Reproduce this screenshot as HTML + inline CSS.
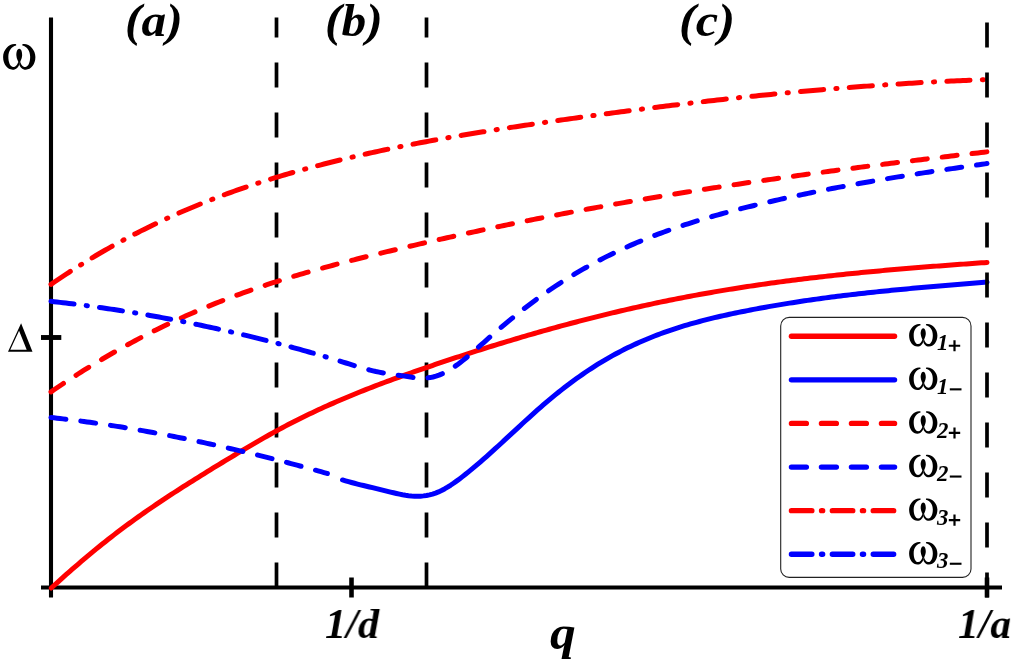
<!DOCTYPE html>
<html><head><meta charset="utf-8"><title>dispersion</title>
<style>
html,body{margin:0;padding:0;background:#fff;}
#c{position:relative;width:1016px;height:661px;overflow:hidden;background:#fff;font-family:"Liberation Serif",serif;}
.t{position:absolute;will-change:transform;line-height:0;white-space:nowrap;color:#000;font-family:"Liberation Serif",serif;}
.bi{font-weight:bold;font-style:italic;}
.r{font-weight:normal;font-style:normal;}
</style></head><body><div id="c">
<svg width="1016" height="661" viewBox="0 0 1016 661" style="position:absolute;left:0;top:0">
<path d="M276.5 587.5 L276.5 17.5" stroke="#000" stroke-width="3.7" stroke-dasharray="25 25" fill="none"/>
<path d="M426.5 587.5 L426.5 17.5" stroke="#000" stroke-width="3.7" stroke-dasharray="25 25" fill="none"/>
<path d="M51 17.5 L51 597.5" stroke="#000" stroke-width="4.1" fill="none"/>
<path d="M41 587.5 L1002 587.5" stroke="#000" stroke-width="4.1" fill="none"/>
<path d="M41 337.5 L61.3 337.5" stroke="#000" stroke-width="4.9" fill="none"/>
<path d="M351.5 577.5 L351.5 597.5" stroke="#000" stroke-width="4.6" fill="none"/>
<path d="M987 577.5 L987 597.5" stroke="#000" stroke-width="4.6" fill="none"/>
<path d="M51.30 588.01 L54.30 585.27 L57.30 582.55 L60.30 579.85 L63.30 577.16 L66.30 574.49 L69.30 571.85 L72.30 569.22 L75.30 566.61 L78.30 564.02 L81.30 561.45 L84.30 558.90 L87.30 556.37 L90.30 553.87 L93.30 551.39 L96.30 548.93 L99.30 546.49 L102.30 544.07 L105.30 541.68 L108.30 539.31 L111.30 536.97 L114.30 534.64 L117.30 532.34 L120.30 530.07 L123.30 527.81 L126.30 525.59 L129.30 523.38 L132.30 521.19 L135.30 519.03 L138.30 516.89 L141.30 514.76 L144.30 512.66 L147.30 510.57 L150.30 508.50 L153.30 506.45 L156.30 504.42 L159.30 502.40 L162.30 500.39 L165.30 498.40 L168.30 496.42 L171.30 494.46 L174.30 492.51 L177.30 490.57 L180.30 488.64 L183.30 486.72 L186.30 484.81 L189.30 482.91 L192.30 481.02 L195.30 479.13 L198.30 477.26 L201.30 475.39 L204.30 473.52 L207.30 471.67 L210.30 469.82 L213.30 467.98 L216.30 466.14 L219.30 464.31 L222.30 462.49 L225.30 460.67 L228.30 458.86 L231.30 457.05 L234.30 455.25 L237.30 453.45 L240.30 451.66 L243.30 449.87 L246.30 448.10 L249.30 446.33 L252.30 444.57 L255.30 442.82 L258.30 441.08 L261.30 439.36 L264.30 437.65 L267.30 435.95 L270.30 434.27 L273.30 432.61 L276.30 430.96 L279.30 429.33 L282.30 427.72 L285.30 426.13 L288.30 424.56 L291.30 423.01 L294.30 421.48 L297.30 419.96 L300.30 418.47 L303.30 416.99 L306.30 415.52 L309.30 414.08 L312.30 412.65 L315.30 411.24 L318.30 409.84 L321.30 408.46 L324.30 407.09 L327.30 405.74 L330.30 404.41 L333.30 403.09 L336.30 401.78 L339.30 400.49 L342.30 399.21 L345.30 397.94 L348.30 396.69 L351.30 395.44 L354.30 394.22 L357.30 393.00 L360.30 391.79 L363.30 390.60 L366.30 389.41 L369.30 388.24 L372.30 387.08 L375.30 385.93 L378.30 384.78 L381.30 383.65 L384.30 382.53 L387.30 381.41 L390.30 380.30 L393.30 379.20 L396.30 378.11 L399.30 377.03 L402.30 375.95 L405.30 374.88 L408.30 373.82 L411.30 372.76 L414.30 371.71 L417.30 370.66 L420.30 369.62 L423.30 368.59 L426.30 367.56 L429.30 366.53 L432.30 365.51 L435.30 364.49 L438.30 363.48 L441.30 362.47 L444.30 361.46 L447.30 360.46 L450.30 359.47 L453.30 358.47 L456.30 357.49 L459.30 356.51 L462.30 355.53 L465.30 354.55 L468.30 353.59 L471.30 352.62 L474.30 351.66 L477.30 350.71 L480.30 349.76 L483.30 348.81 L486.30 347.87 L489.30 346.94 L492.30 346.00 L495.30 345.08 L498.30 344.16 L501.30 343.24 L504.30 342.33 L507.30 341.42 L510.30 340.52 L513.30 339.62 L516.30 338.73 L519.30 337.84 L522.30 336.96 L525.30 336.08 L528.30 335.21 L531.30 334.34 L534.30 333.48 L537.30 332.63 L540.30 331.77 L543.30 330.93 L546.30 330.09 L549.30 329.25 L552.30 328.42 L555.30 327.59 L558.30 326.77 L561.30 325.96 L564.30 325.15 L567.30 324.34 L570.30 323.54 L573.30 322.75 L576.30 321.96 L579.30 321.18 L582.30 320.40 L585.30 319.63 L588.30 318.86 L591.30 318.10 L594.30 317.34 L597.30 316.59 L600.30 315.85 L603.30 315.11 L606.30 314.38 L609.30 313.65 L612.30 312.93 L615.30 312.21 L618.30 311.50 L621.30 310.80 L624.30 310.10 L627.30 309.40 L630.30 308.72 L633.30 308.03 L636.30 307.36 L639.30 306.69 L642.30 306.02 L645.30 305.37 L648.30 304.71 L651.30 304.07 L654.30 303.43 L657.30 302.79 L660.30 302.16 L663.30 301.54 L666.30 300.93 L669.30 300.32 L672.30 299.71 L675.30 299.11 L678.30 298.52 L681.30 297.94 L684.30 297.36 L687.30 296.78 L690.30 296.22 L693.30 295.65 L696.30 295.10 L699.30 294.55 L702.30 294.01 L705.30 293.47 L708.30 292.94 L711.30 292.42 L714.30 291.90 L717.30 291.39 L720.30 290.88 L723.30 290.38 L726.30 289.88 L729.30 289.39 L732.30 288.91 L735.30 288.43 L738.30 287.96 L741.30 287.49 L744.30 287.03 L747.30 286.57 L750.30 286.12 L753.30 285.67 L756.30 285.23 L759.30 284.79 L762.30 284.36 L765.30 283.94 L768.30 283.52 L771.30 283.10 L774.30 282.69 L777.30 282.28 L780.30 281.88 L783.30 281.48 L786.30 281.09 L789.30 280.70 L792.30 280.31 L795.30 279.93 L798.30 279.56 L801.30 279.19 L804.30 278.82 L807.30 278.46 L810.30 278.10 L813.30 277.75 L816.30 277.40 L819.30 277.05 L822.30 276.71 L825.30 276.37 L828.30 276.04 L831.30 275.71 L834.30 275.38 L837.30 275.06 L840.30 274.74 L843.30 274.42 L846.30 274.11 L849.30 273.80 L852.30 273.50 L855.30 273.19 L858.30 272.90 L861.30 272.60 L864.30 272.31 L867.30 272.02 L870.30 271.73 L873.30 271.45 L876.30 271.17 L879.30 270.89 L882.30 270.62 L885.30 270.35 L888.30 270.08 L891.30 269.82 L894.30 269.55 L897.30 269.29 L900.30 269.03 L903.30 268.78 L906.30 268.53 L909.30 268.28 L912.30 268.03 L915.30 267.78 L918.30 267.54 L921.30 267.30 L924.30 267.06 L927.30 266.82 L930.30 266.59 L933.30 266.36 L936.30 266.13 L939.30 265.90 L942.30 265.67 L945.30 265.44 L948.30 265.22 L951.30 265.00 L954.30 264.78 L957.30 264.56 L960.30 264.34 L963.30 264.13 L966.30 263.91 L969.30 263.70 L972.30 263.49 L975.30 263.28 L978.30 263.07 L981.30 262.86 L984.30 262.65 L987.00 262.47" stroke="#f00" stroke-width="5.0" stroke-linecap="round" stroke-linejoin="round" fill="none"/>
<path d="M342.50 479.95 L345.50 480.83 L348.50 481.68 L351.50 482.50 L354.50 483.29 L357.50 484.06 L360.50 484.81 L363.50 485.55 L366.50 486.27 L369.50 486.98 L372.50 487.69 L375.50 488.40 L378.50 489.12 L381.50 489.84 L384.50 490.57 L387.50 491.32 L390.50 492.06 L393.50 492.80 L396.50 493.51 L399.50 494.17 L402.50 494.77 L405.50 495.29 L408.50 495.72 L411.50 496.03 L414.50 496.21 L417.50 496.25 L420.50 496.14 L423.50 495.88 L426.50 495.45 L429.50 494.85 L432.50 494.06 L435.50 493.08 L438.50 491.91 L441.50 490.53 L444.50 488.95 L447.50 487.20 L450.50 485.30 L453.50 483.27 L456.50 481.13 L459.50 478.91 L462.50 476.62 L465.50 474.28 L468.50 471.88 L471.50 469.43 L474.50 466.94 L477.50 464.40 L480.50 461.83 L483.50 459.21 L486.50 456.57 L489.50 453.89 L492.50 451.19 L495.50 448.47 L498.50 445.73 L501.50 442.97 L504.50 440.20 L507.50 437.42 L510.50 434.64 L513.50 431.86 L516.50 429.07 L519.50 426.30 L522.50 423.53 L525.50 420.78 L528.50 418.04 L531.50 415.32 L534.50 412.62 L537.50 409.95 L540.50 407.31 L543.50 404.70 L546.50 402.13 L549.50 399.60 L552.50 397.10 L555.50 394.65 L558.50 392.23 L561.50 389.86 L564.50 387.52 L567.50 385.23 L570.50 382.97 L573.50 380.75 L576.50 378.58 L579.50 376.44 L582.50 374.35 L585.50 372.30 L588.50 370.28 L591.50 368.31 L594.50 366.38 L597.50 364.49 L600.50 362.65 L603.50 360.84 L606.50 359.08 L609.50 357.36 L612.50 355.68 L615.50 354.04 L618.50 352.44 L621.50 350.87 L624.50 349.35 L627.50 347.86 L630.50 346.41 L633.50 345.00 L636.50 343.62 L639.50 342.28 L642.50 340.96 L645.50 339.69 L648.50 338.44 L651.50 337.23 L654.50 336.04 L657.50 334.89 L660.50 333.76 L663.50 332.67 L666.50 331.60 L669.50 330.56 L672.50 329.55 L675.50 328.56 L678.50 327.59 L681.50 326.65 L684.50 325.73 L687.50 324.84 L690.50 323.97 L693.50 323.12 L696.50 322.29 L699.50 321.48 L702.50 320.68 L705.50 319.91 L708.50 319.15 L711.50 318.41 L714.50 317.69 L717.50 316.98 L720.50 316.29 L723.50 315.61 L726.50 314.94 L729.50 314.29 L732.50 313.64 L735.50 313.01 L738.50 312.39 L741.50 311.78 L744.50 311.18 L747.50 310.58 L750.50 310.00 L753.50 309.42 L756.50 308.85 L759.50 308.29 L762.50 307.74 L765.50 307.20 L768.50 306.66 L771.50 306.13 L774.50 305.61 L777.50 305.10 L780.50 304.60 L783.50 304.10 L786.50 303.61 L789.50 303.13 L792.50 302.66 L795.50 302.19 L798.50 301.73 L801.50 301.28 L804.50 300.83 L807.50 300.39 L810.50 299.96 L813.50 299.53 L816.50 299.11 L819.50 298.70 L822.50 298.29 L825.50 297.89 L828.50 297.49 L831.50 297.10 L834.50 296.72 L837.50 296.34 L840.50 295.96 L843.50 295.59 L846.50 295.23 L849.50 294.87 L852.50 294.52 L855.50 294.17 L858.50 293.83 L861.50 293.49 L864.50 293.16 L867.50 292.83 L870.50 292.50 L873.50 292.18 L876.50 291.87 L879.50 291.56 L882.50 291.25 L885.50 290.94 L888.50 290.64 L891.50 290.34 L894.50 290.05 L897.50 289.76 L900.50 289.47 L903.50 289.19 L906.50 288.91 L909.50 288.63 L912.50 288.36 L915.50 288.08 L918.50 287.81 L921.50 287.55 L924.50 287.28 L927.50 287.02 L930.50 286.76 L933.50 286.50 L936.50 286.24 L939.50 285.99 L942.50 285.74 L945.50 285.49 L948.50 285.24 L951.50 284.99 L954.50 284.74 L957.50 284.50 L960.50 284.25 L963.50 284.01 L966.50 283.76 L969.50 283.52 L972.50 283.28 L975.50 283.04 L978.50 282.80 L981.50 282.56 L984.50 282.32 L987.00 282.12" stroke="#00f" stroke-width="5.0" stroke-linecap="round" stroke-linejoin="round" fill="none"/>
<path d="M51.00 391.86 L54.00 389.81 L57.00 387.77 L60.00 385.75 L63.00 383.74 L66.00 381.76 L69.00 379.79 L72.00 377.84 L75.00 375.90 L78.00 373.99 L81.00 372.08 L84.00 370.20 L87.00 368.34 L90.00 366.49 L93.00 364.65 L96.00 362.84 L99.00 361.04 L102.00 359.25 L105.00 357.49 L108.00 355.74 L111.00 354.01 L114.00 352.29 L117.00 350.59 L120.00 348.90 L123.00 347.24 L126.00 345.58 L129.00 343.95 L132.00 342.33 L135.00 340.72 L138.00 339.14 L141.00 337.56 L144.00 336.01 L147.00 334.47 L150.00 332.94 L153.00 331.43 L156.00 329.94 L159.00 328.46 L162.00 326.99 L165.00 325.55 L168.00 324.11 L171.00 322.69 L174.00 321.29 L177.00 319.90 L180.00 318.53 L183.00 317.17 L186.00 315.83 L189.00 314.50 L192.00 313.19 L195.00 311.89 L198.00 310.60 L201.00 309.33 L204.00 308.08 L207.00 306.83 L210.00 305.61 L213.00 304.39 L216.00 303.19 L219.00 302.00 L222.00 300.83 L225.00 299.66 L228.00 298.52 L231.00 297.38 L234.00 296.26 L237.00 295.15 L240.00 294.05 L243.00 292.96 L246.00 291.89 L249.00 290.83 L252.00 289.77 L255.00 288.74 L258.00 287.71 L261.00 286.69 L264.00 285.69 L267.00 284.69 L270.00 283.71 L273.00 282.74 L276.00 281.78 L279.00 280.83 L282.00 279.89 L285.00 278.96 L288.00 278.04 L291.00 277.12 L294.00 276.22 L297.00 275.33 L300.00 274.44 L303.00 273.57 L306.00 272.70 L309.00 271.84 L312.00 270.99 L315.00 270.15 L318.00 269.31 L321.00 268.49 L324.00 267.67 L327.00 266.85 L330.00 266.04 L333.00 265.24 L336.00 264.45 L339.00 263.66 L342.00 262.88 L345.00 262.10 L348.00 261.33 L351.00 260.56 L354.00 259.80 L357.00 259.04 L360.00 258.29 L363.00 257.54 L366.00 256.80 L369.00 256.06 L372.00 255.32 L375.00 254.59 L378.00 253.86 L381.00 253.13 L384.00 252.41 L387.00 251.69 L390.00 250.97 L393.00 250.25 L396.00 249.54 L399.00 248.83 L402.00 248.12 L405.00 247.41 L408.00 246.71 L411.00 246.01 L414.00 245.31 L417.00 244.61 L420.00 243.92 L423.00 243.23 L426.00 242.54 L429.00 241.85 L432.00 241.16 L435.00 240.48 L438.00 239.80 L441.00 239.13 L444.00 238.45 L447.00 237.78 L450.00 237.11 L453.00 236.44 L456.00 235.78 L459.00 235.12 L462.00 234.46 L465.00 233.80 L468.00 233.14 L471.00 232.49 L474.00 231.84 L477.00 231.20 L480.00 230.55 L483.00 229.91 L486.00 229.27 L489.00 228.63 L492.00 228.00 L495.00 227.37 L498.00 226.74 L501.00 226.11 L504.00 225.49 L507.00 224.87 L510.00 224.25 L513.00 223.63 L516.00 223.02 L519.00 222.41 L522.00 221.80 L525.00 221.19 L528.00 220.59 L531.00 219.99 L534.00 219.39 L537.00 218.79 L540.00 218.20 L543.00 217.61 L546.00 217.02 L549.00 216.44 L552.00 215.85 L555.00 215.27 L558.00 214.69 L561.00 214.12 L564.00 213.55 L567.00 212.98 L570.00 212.41 L573.00 211.84 L576.00 211.28 L579.00 210.72 L582.00 210.16 L585.00 209.61 L588.00 209.05 L591.00 208.50 L594.00 207.95 L597.00 207.41 L600.00 206.86 L603.00 206.32 L606.00 205.78 L609.00 205.25 L612.00 204.71 L615.00 204.18 L618.00 203.65 L621.00 203.12 L624.00 202.60 L627.00 202.07 L630.00 201.55 L633.00 201.03 L636.00 200.52 L639.00 200.00 L642.00 199.49 L645.00 198.98 L648.00 198.47 L651.00 197.97 L654.00 197.46 L657.00 196.96 L660.00 196.46 L663.00 195.97 L666.00 195.47 L669.00 194.98 L672.00 194.49 L675.00 194.00 L678.00 193.51 L681.00 193.03 L684.00 192.54 L687.00 192.06 L690.00 191.58 L693.00 191.11 L696.00 190.63 L699.00 190.16 L702.00 189.69 L705.00 189.22 L708.00 188.75 L711.00 188.28 L714.00 187.82 L717.00 187.36 L720.00 186.90 L723.00 186.44 L726.00 185.98 L729.00 185.53 L732.00 185.08 L735.00 184.63 L738.00 184.18 L741.00 183.73 L744.00 183.28 L747.00 182.84 L750.00 182.40 L753.00 181.96 L756.00 181.52 L759.00 181.08 L762.00 180.65 L765.00 180.21 L768.00 179.78 L771.00 179.35 L774.00 178.92 L777.00 178.49 L780.00 178.07 L783.00 177.65 L786.00 177.22 L789.00 176.80 L792.00 176.38 L795.00 175.97 L798.00 175.55 L801.00 175.13 L804.00 174.72 L807.00 174.31 L810.00 173.90 L813.00 173.49 L816.00 173.08 L819.00 172.68 L822.00 172.27 L825.00 171.87 L828.00 171.47 L831.00 171.07 L834.00 170.67 L837.00 170.27 L840.00 169.88 L843.00 169.48 L846.00 169.09 L849.00 168.70 L852.00 168.31 L855.00 167.92 L858.00 167.53 L861.00 167.14 L864.00 166.76 L867.00 166.37 L870.00 165.99 L873.00 165.61 L876.00 165.22 L879.00 164.85 L882.00 164.47 L885.00 164.09 L888.00 163.71 L891.00 163.34 L894.00 162.96 L897.00 162.59 L900.00 162.22 L903.00 161.85 L906.00 161.48 L909.00 161.11 L912.00 160.75 L915.00 160.38 L918.00 160.01 L921.00 159.65 L924.00 159.29 L927.00 158.92 L930.00 158.56 L933.00 158.20 L936.00 157.84 L939.00 157.49 L942.00 157.13 L945.00 156.77 L948.00 156.42 L951.00 156.06 L954.00 155.71 L957.00 155.35 L960.00 155.00 L963.00 154.65 L966.00 154.30 L969.00 153.95 L972.00 153.60 L975.00 153.25 L978.00 152.91 L981.00 152.56 L984.00 152.22 L987.00 151.87" stroke="#f00" stroke-width="5.0" stroke-linecap="round" stroke-linejoin="round" fill="none" stroke-dasharray="15 15"/>
<path d="M51.00 417.50 L54.00 417.83 L57.00 418.17 L60.00 418.52 L63.00 418.87 L66.00 419.23 L69.00 419.60 L72.00 419.97 L75.00 420.35 L78.00 420.74 L81.00 421.13 L84.00 421.53 L87.00 421.94 L90.00 422.35 L93.00 422.77 L96.00 423.20 L99.00 423.63 L102.00 424.07 L105.00 424.51 L108.00 424.97 L111.00 425.43 L114.00 425.89 L117.00 426.36 L120.00 426.84 L123.00 427.32 L126.00 427.82 L129.00 428.31 L132.00 428.82 L135.00 429.32 L138.00 429.84 L141.00 430.36 L144.00 430.89 L147.00 431.42 L150.00 431.96 L153.00 432.51 L156.00 433.06 L159.00 433.62 L162.00 434.18 L165.00 434.75 L168.00 435.33 L171.00 435.91 L174.00 436.49 L177.00 437.09 L180.00 437.68 L183.00 438.29 L186.00 438.90 L189.00 439.51 L192.00 440.13 L195.00 440.76 L198.00 441.39 L201.00 442.03 L204.00 442.67 L207.00 443.32 L210.00 443.98 L213.00 444.64 L216.00 445.30 L219.00 445.97 L222.00 446.65 L225.00 447.33 L228.00 448.01 L231.00 448.70 L234.00 449.40 L237.00 450.10 L240.00 450.81 L243.00 451.52 L246.00 452.24 L249.00 452.96 L252.00 453.68 L255.00 454.42 L258.00 455.15 L261.00 455.89 L264.00 456.64 L267.00 457.39 L270.00 458.15 L273.00 458.91 L276.00 459.67 L279.00 460.44 L282.00 461.22 L285.00 462.00 L288.00 462.78 L291.00 463.57 L294.00 464.36 L297.00 465.16 L300.00 465.96 L303.00 466.77 L306.00 467.58 L309.00 468.40 L312.00 469.22 L315.00 470.04 L318.00 470.87 L321.00 471.71 L324.00 472.54 L327.00 473.39 L327.40 473.50" stroke="#00f" stroke-width="5.0" stroke-linecap="round" stroke-linejoin="round" fill="none" stroke-dasharray="15 15"/>
<path d="M340.00 361.14 L343.00 362.06 L346.00 362.99 L349.00 363.93 L352.00 364.87 L355.00 365.80 L358.00 366.72 L361.00 367.62 L364.00 368.49 L367.00 369.32 L370.00 370.11 L373.00 370.85 L376.00 371.54 L379.00 372.16 L382.00 372.72 L385.00 373.23 L388.00 373.71 L391.00 374.16 L394.00 374.60 L397.00 375.02 L400.00 375.45 L403.00 375.88 L406.00 376.33 L409.00 376.81 L412.00 377.26 L415.00 377.66 L418.00 377.97 L421.00 378.14 L424.00 378.14 L427.00 377.96 L430.00 377.58 L433.00 376.99 L436.00 376.17 L439.00 375.13 L442.00 373.87 L445.00 372.42 L448.00 370.78 L451.00 368.97 L454.00 367.01 L457.00 364.91 L460.00 362.68 L463.00 360.35 L466.00 357.93 L469.00 355.42 L472.00 352.86 L475.00 350.24 L478.00 347.60 L481.00 344.93 L484.00 342.27 L487.00 339.61 L490.00 336.98 L493.00 334.36 L496.00 331.77 L499.00 329.19 L502.00 326.64 L505.00 324.11 L508.00 321.61 L511.00 319.14 L514.00 316.69 L517.00 314.27 L520.00 311.88 L523.00 309.52 L526.00 307.19 L529.00 304.90 L532.00 302.64 L535.00 300.41 L538.00 298.22 L541.00 296.07 L544.00 293.94 L547.00 291.85 L550.00 289.79 L553.00 287.77 L556.00 285.77 L559.00 283.81 L562.00 281.88 L565.00 279.98 L568.00 278.11 L571.00 276.26 L574.00 274.45 L577.00 272.67 L580.00 270.92 L583.00 269.19 L586.00 267.50 L589.00 265.83 L592.00 264.19 L595.00 262.57 L598.00 260.98 L601.00 259.42 L604.00 257.88 L607.00 256.37 L610.00 254.89 L613.00 253.42 L616.00 251.99 L619.00 250.57 L622.00 249.18 L625.00 247.82 L628.00 246.47 L631.00 245.15 L634.00 243.85 L637.00 242.57 L640.00 241.32 L643.00 240.08 L646.00 238.86 L649.00 237.67 L652.00 236.49 L655.00 235.33 L658.00 234.20 L661.00 233.08 L664.00 231.97 L667.00 230.89 L670.00 229.82 L673.00 228.78 L676.00 227.74 L679.00 226.73 L682.00 225.73 L685.00 224.74 L688.00 223.77 L691.00 222.81 L694.00 221.87 L697.00 220.95 L700.00 220.03 L703.00 219.13 L706.00 218.24 L709.00 217.37 L712.00 216.50 L715.00 215.65 L718.00 214.81 L721.00 213.98 L724.00 213.16 L727.00 212.35 L730.00 211.55 L733.00 210.76 L736.00 209.98 L739.00 209.21 L742.00 208.45 L745.00 207.69 L748.00 206.94 L751.00 206.20 L754.00 205.46 L757.00 204.74 L760.00 204.01 L763.00 203.30 L766.00 202.59 L769.00 201.89 L772.00 201.20 L775.00 200.51 L778.00 199.82 L781.00 199.15 L784.00 198.48 L787.00 197.82 L790.00 197.16 L793.00 196.51 L796.00 195.86 L799.00 195.22 L802.00 194.59 L805.00 193.96 L808.00 193.34 L811.00 192.72 L814.00 192.11 L817.00 191.50 L820.00 190.90 L823.00 190.31 L826.00 189.72 L829.00 189.13 L832.00 188.55 L835.00 187.97 L838.00 187.40 L841.00 186.84 L844.00 186.28 L847.00 185.72 L850.00 185.17 L853.00 184.62 L856.00 184.08 L859.00 183.54 L862.00 183.01 L865.00 182.48 L868.00 181.95 L871.00 181.43 L874.00 180.91 L877.00 180.40 L880.00 179.89 L883.00 179.38 L886.00 178.88 L889.00 178.38 L892.00 177.88 L895.00 177.39 L898.00 176.90 L901.00 176.42 L904.00 175.93 L907.00 175.46 L910.00 174.98 L913.00 174.51 L916.00 174.04 L919.00 173.57 L922.00 173.11 L925.00 172.64 L928.00 172.19 L931.00 171.73 L934.00 171.28 L937.00 170.82 L940.00 170.38 L943.00 169.93 L946.00 169.48 L949.00 169.04 L952.00 168.60 L955.00 168.16 L958.00 167.73 L961.00 167.29 L964.00 166.86 L967.00 166.43 L970.00 166.00 L973.00 165.57 L976.00 165.14 L979.00 164.72 L982.00 164.30 L985.00 163.87 L987.00 163.59" stroke="#00f" stroke-width="5.0" stroke-linecap="round" stroke-linejoin="round" fill="none" stroke-dasharray="15 15"/>
<path d="M51.00 284.38 L54.00 282.31 L57.00 280.27 L60.00 278.25 L63.00 276.24 L66.00 274.26 L69.00 272.30 L72.00 270.36 L75.00 268.43 L78.00 266.53 L81.00 264.65 L84.00 262.78 L87.00 260.94 L90.00 259.11 L93.00 257.31 L96.00 255.52 L99.00 253.75 L102.00 252.00 L105.00 250.27 L108.00 248.56 L111.00 246.87 L114.00 245.19 L117.00 243.53 L120.00 241.89 L123.00 240.27 L126.00 238.66 L129.00 237.07 L132.00 235.50 L135.00 233.95 L138.00 232.41 L141.00 230.89 L144.00 229.39 L147.00 227.90 L150.00 226.43 L153.00 224.97 L156.00 223.53 L159.00 222.11 L162.00 220.70 L165.00 219.31 L168.00 217.93 L171.00 216.57 L174.00 215.23 L177.00 213.90 L180.00 212.58 L183.00 211.28 L186.00 209.99 L189.00 208.72 L192.00 207.46 L195.00 206.22 L198.00 204.99 L201.00 203.77 L204.00 202.57 L207.00 201.38 L210.00 200.21 L213.00 199.04 L216.00 197.90 L219.00 196.76 L222.00 195.64 L225.00 194.53 L228.00 193.43 L231.00 192.34 L234.00 191.27 L237.00 190.21 L240.00 189.16 L243.00 188.12 L246.00 187.09 L249.00 186.08 L252.00 185.08 L255.00 184.08 L258.00 183.10 L261.00 182.13 L264.00 181.17 L267.00 180.23 L270.00 179.29 L273.00 178.36 L276.00 177.44 L279.00 176.53 L282.00 175.64 L285.00 174.75 L288.00 173.87 L291.00 173.00 L294.00 172.14 L297.00 171.29 L300.00 170.45 L303.00 169.62 L306.00 168.79 L309.00 167.98 L312.00 167.17 L315.00 166.38 L318.00 165.58 L321.00 164.80 L324.00 164.03 L327.00 163.26 L330.00 162.50 L333.00 161.75 L336.00 161.01 L339.00 160.27 L342.00 159.54 L345.00 158.82 L348.00 158.10 L351.00 157.39 L354.00 156.69 L357.00 156.00 L360.00 155.31 L363.00 154.63 L366.00 153.95 L369.00 153.28 L372.00 152.62 L375.00 151.97 L378.00 151.32 L381.00 150.67 L384.00 150.03 L387.00 149.40 L390.00 148.78 L393.00 148.16 L396.00 147.54 L399.00 146.93 L402.00 146.33 L405.00 145.73 L408.00 145.14 L411.00 144.55 L414.00 143.97 L417.00 143.39 L420.00 142.82 L423.00 142.25 L426.00 141.69 L429.00 141.14 L432.00 140.58 L435.00 140.03 L438.00 139.49 L441.00 138.95 L444.00 138.42 L447.00 137.89 L450.00 137.36 L453.00 136.84 L456.00 136.32 L459.00 135.81 L462.00 135.29 L465.00 134.79 L468.00 134.29 L471.00 133.79 L474.00 133.29 L477.00 132.80 L480.00 132.31 L483.00 131.82 L486.00 131.34 L489.00 130.86 L492.00 130.38 L495.00 129.91 L498.00 129.44 L501.00 128.97 L504.00 128.51 L507.00 128.04 L510.00 127.58 L513.00 127.13 L516.00 126.67 L519.00 126.22 L522.00 125.77 L525.00 125.32 L528.00 124.87 L531.00 124.42 L534.00 123.98 L537.00 123.54 L540.00 123.10 L543.00 122.66 L546.00 122.23 L549.00 121.79 L552.00 121.36 L555.00 120.92 L558.00 120.49 L561.00 120.06 L564.00 119.64 L567.00 119.21 L570.00 118.79 L573.00 118.36 L576.00 117.94 L579.00 117.52 L582.00 117.10 L585.00 116.69 L588.00 116.27 L591.00 115.86 L594.00 115.44 L597.00 115.03 L600.00 114.63 L603.00 114.22 L606.00 113.81 L609.00 113.41 L612.00 113.01 L615.00 112.61 L618.00 112.21 L621.00 111.81 L624.00 111.42 L627.00 111.02 L630.00 110.63 L633.00 110.24 L636.00 109.85 L639.00 109.47 L642.00 109.08 L645.00 108.70 L648.00 108.32 L651.00 107.94 L654.00 107.56 L657.00 107.19 L660.00 106.81 L663.00 106.44 L666.00 106.07 L669.00 105.70 L672.00 105.34 L675.00 104.97 L678.00 104.61 L681.00 104.25 L684.00 103.89 L687.00 103.53 L690.00 103.18 L693.00 102.83 L696.00 102.48 L699.00 102.13 L702.00 101.78 L705.00 101.44 L708.00 101.10 L711.00 100.75 L714.00 100.42 L717.00 100.08 L720.00 99.75 L723.00 99.41 L726.00 99.08 L729.00 98.76 L732.00 98.43 L735.00 98.11 L738.00 97.78 L741.00 97.46 L744.00 97.15 L747.00 96.83 L750.00 96.52 L753.00 96.21 L756.00 95.90 L759.00 95.59 L762.00 95.29 L765.00 94.99 L768.00 94.69 L771.00 94.39 L774.00 94.09 L777.00 93.80 L780.00 93.51 L783.00 93.22 L786.00 92.94 L789.00 92.65 L792.00 92.37 L795.00 92.09 L798.00 91.82 L801.00 91.54 L804.00 91.27 L807.00 91.00 L810.00 90.73 L813.00 90.47 L816.00 90.20 L819.00 89.94 L822.00 89.69 L825.00 89.43 L828.00 89.18 L831.00 88.93 L834.00 88.68 L837.00 88.44 L840.00 88.19 L843.00 87.95 L846.00 87.71 L849.00 87.48 L852.00 87.25 L855.00 87.02 L858.00 86.79 L861.00 86.56 L864.00 86.34 L867.00 86.12 L870.00 85.90 L873.00 85.69 L876.00 85.48 L879.00 85.27 L882.00 85.06 L885.00 84.86 L888.00 84.66 L891.00 84.46 L894.00 84.26 L897.00 84.07 L900.00 83.88 L903.00 83.69 L906.00 83.50 L909.00 83.32 L912.00 83.14 L915.00 82.96 L918.00 82.79 L921.00 82.62 L924.00 82.45 L927.00 82.28 L930.00 82.12 L933.00 81.96 L936.00 81.80 L939.00 81.65 L942.00 81.50 L945.00 81.35 L948.00 81.20 L951.00 81.06 L954.00 80.92 L957.00 80.78 L960.00 80.65 L963.00 80.52 L966.00 80.39 L969.00 80.26 L972.00 80.14 L975.00 80.02 L978.00 79.91 L981.00 79.79 L984.00 79.68 L987.00 79.57" stroke="#f00" stroke-width="5.0" stroke-linecap="round" stroke-linejoin="round" fill="none" stroke-dasharray="23.2 12.25 1.2 12.25"/>
<path d="M51.00 301.36 L54.00 301.69 L57.00 302.03 L60.00 302.37 L63.00 302.72 L66.00 303.07 L69.00 303.43 L72.00 303.80 L75.00 304.17 L78.00 304.55 L81.00 304.94 L84.00 305.33 L87.00 305.72 L90.00 306.13 L93.00 306.53 L96.00 306.95 L99.00 307.37 L102.00 307.80 L105.00 308.23 L108.00 308.67 L111.00 309.12 L114.00 309.57 L117.00 310.02 L120.00 310.49 L123.00 310.96 L126.00 311.43 L129.00 311.91 L132.00 312.40 L135.00 312.90 L138.00 313.40 L141.00 313.90 L144.00 314.41 L147.00 314.93 L150.00 315.46 L153.00 315.99 L156.00 316.52 L159.00 317.07 L162.00 317.61 L165.00 318.17 L168.00 318.73 L171.00 319.30 L174.00 319.87 L177.00 320.45 L180.00 321.03 L183.00 321.62 L186.00 322.22 L189.00 322.83 L192.00 323.43 L195.00 324.05 L198.00 324.67 L201.00 325.30 L204.00 325.93 L207.00 326.57 L210.00 327.22 L213.00 327.87 L216.00 328.53 L219.00 329.19 L222.00 329.86 L225.00 330.54 L228.00 331.22 L231.00 331.91 L234.00 332.61 L237.00 333.31 L240.00 334.01 L243.00 334.73 L246.00 335.44 L249.00 336.17 L252.00 336.90 L255.00 337.64 L258.00 338.38 L261.00 339.13 L264.00 339.89 L267.00 340.65 L270.00 341.42 L273.00 342.19 L276.00 342.98 L279.00 343.76 L282.00 344.56 L285.00 345.36 L288.00 346.16 L291.00 346.97 L294.00 347.79 L297.00 348.62 L300.00 349.45 L303.00 350.29 L306.00 351.13 L309.00 351.98 L312.00 352.84 L315.00 353.70 L318.00 354.57 L321.00 355.45 L324.00 356.33 L327.00 357.22 L330.00 358.11 L331.00 358.41" stroke="#00f" stroke-width="5.0" stroke-linecap="round" stroke-linejoin="round" fill="none" stroke-dasharray="23.2 12.25 1.2 12.25"/>
<path d="M987 597.5 L987 22.5" stroke="#000" stroke-width="3.7" stroke-dasharray="25 25" fill="none"/>
<rect x="780.7" y="317.4" width="190.3" height="260" rx="8.5" ry="8.5" fill="#fff" stroke="#222" stroke-width="1.1"/>
<path d="M791.4 336.25 L894.6 336.25" stroke="#f00" stroke-width="5.3" stroke-linecap="round" fill="none"/>
<path d="M791.4 379.85 L894.6 379.85" stroke="#00f" stroke-width="5.3" stroke-linecap="round" fill="none"/>
<path d="M791.4 423.45 L894.6 423.45" stroke="#f00" stroke-width="5.3" stroke-linecap="round" fill="none" stroke-dasharray="15 15"/>
<path d="M791.4 467.05 L894.6 467.05" stroke="#00f" stroke-width="5.3" stroke-linecap="round" fill="none" stroke-dasharray="15 15"/>
<path d="M791.4 510.65 L894.6 510.65" stroke="#f00" stroke-width="5.3" stroke-linecap="round" fill="none" stroke-dasharray="20.5 9.6 1.2 9.6"/>
<path d="M791.4 554.25 L894.6 554.25" stroke="#00f" stroke-width="5.3" stroke-linecap="round" fill="none" stroke-dasharray="20.5 9.6 1.2 9.6"/>
<g transform="translate(3.1,43.70) scale(0.06800) translate(-45,-128)"><path d="M237 136 C140 116 45 215 45 325 C45 435 110 510 185 510 C240 510 272 470 284 425 L270 385 C258 430 235 470 195 470 C150 470 122 400 122 320 C122 235 165 172 237 154 Z"/><path d="M237 136 C140 116 45 215 45 325 C45 435 110 510 185 510 C240 510 272 470 284 425 L270 385 C258 430 235 470 195 470 C150 470 122 400 122 320 C122 235 165 172 237 154 Z" transform="translate(565,0) scale(-1,1)"/><path d="M282.5 203 C250 203 238 260 240 300 C243 350 268 385 282.5 428 C297 385 322 350 325 300 C327 260 315 203 282.5 203 Z"/></g>
<path fill-rule="evenodd" d="M8 351.8 L21.1 323.2 L32.5 351.8 Z M10.3 349.8 L26.7 349.8 L19.07 330.65 Z"/>
<g transform="translate(909.1,323.70) scale(0.05958) translate(-45,-128)"><path d="M237 136 C140 116 45 215 45 325 C45 435 110 510 185 510 C240 510 272 470 284 425 L270 385 C258 430 235 470 195 470 C150 470 122 400 122 320 C122 235 165 172 237 154 Z"/><path d="M237 136 C140 116 45 215 45 325 C45 435 110 510 185 510 C240 510 272 470 284 425 L270 385 C258 430 235 470 195 470 C150 470 122 400 122 320 C122 235 165 172 237 154 Z" transform="translate(565,0) scale(-1,1)"/><path d="M282.5 203 C250 203 238 260 240 300 C243 350 268 385 282.5 428 C297 385 322 350 325 300 C327 260 315 203 282.5 203 Z"/></g>
<path d="M948.8 345.75 H960.2 M954.5 340.20 V351.30" stroke="#000" stroke-width="2.2" fill="none"/>
<g transform="translate(909.1,367.30) scale(0.05958) translate(-45,-128)"><path d="M237 136 C140 116 45 215 45 325 C45 435 110 510 185 510 C240 510 272 470 284 425 L270 385 C258 430 235 470 195 470 C150 470 122 400 122 320 C122 235 165 172 237 154 Z"/><path d="M237 136 C140 116 45 215 45 325 C45 435 110 510 185 510 C240 510 272 470 284 425 L270 385 C258 430 235 470 195 470 C150 470 122 400 122 320 C122 235 165 172 237 154 Z" transform="translate(565,0) scale(-1,1)"/><path d="M282.5 203 C250 203 238 260 240 300 C243 350 268 385 282.5 428 C297 385 322 350 325 300 C327 260 315 203 282.5 203 Z"/></g>
<path d="M949.8 389.35 H961.5" stroke="#000" stroke-width="2.1" fill="none"/>
<g transform="translate(909.1,410.90) scale(0.05958) translate(-45,-128)"><path d="M237 136 C140 116 45 215 45 325 C45 435 110 510 185 510 C240 510 272 470 284 425 L270 385 C258 430 235 470 195 470 C150 470 122 400 122 320 C122 235 165 172 237 154 Z"/><path d="M237 136 C140 116 45 215 45 325 C45 435 110 510 185 510 C240 510 272 470 284 425 L270 385 C258 430 235 470 195 470 C150 470 122 400 122 320 C122 235 165 172 237 154 Z" transform="translate(565,0) scale(-1,1)"/><path d="M282.5 203 C250 203 238 260 240 300 C243 350 268 385 282.5 428 C297 385 322 350 325 300 C327 260 315 203 282.5 203 Z"/></g>
<path d="M948.8 432.95 H960.2 M954.5 427.40 V438.50" stroke="#000" stroke-width="2.2" fill="none"/>
<g transform="translate(909.1,454.50) scale(0.05958) translate(-45,-128)"><path d="M237 136 C140 116 45 215 45 325 C45 435 110 510 185 510 C240 510 272 470 284 425 L270 385 C258 430 235 470 195 470 C150 470 122 400 122 320 C122 235 165 172 237 154 Z"/><path d="M237 136 C140 116 45 215 45 325 C45 435 110 510 185 510 C240 510 272 470 284 425 L270 385 C258 430 235 470 195 470 C150 470 122 400 122 320 C122 235 165 172 237 154 Z" transform="translate(565,0) scale(-1,1)"/><path d="M282.5 203 C250 203 238 260 240 300 C243 350 268 385 282.5 428 C297 385 322 350 325 300 C327 260 315 203 282.5 203 Z"/></g>
<path d="M949.8 476.55 H961.5" stroke="#000" stroke-width="2.1" fill="none"/>
<g transform="translate(909.1,498.10) scale(0.05958) translate(-45,-128)"><path d="M237 136 C140 116 45 215 45 325 C45 435 110 510 185 510 C240 510 272 470 284 425 L270 385 C258 430 235 470 195 470 C150 470 122 400 122 320 C122 235 165 172 237 154 Z"/><path d="M237 136 C140 116 45 215 45 325 C45 435 110 510 185 510 C240 510 272 470 284 425 L270 385 C258 430 235 470 195 470 C150 470 122 400 122 320 C122 235 165 172 237 154 Z" transform="translate(565,0) scale(-1,1)"/><path d="M282.5 203 C250 203 238 260 240 300 C243 350 268 385 282.5 428 C297 385 322 350 325 300 C327 260 315 203 282.5 203 Z"/></g>
<path d="M948.8 520.15 H960.2 M954.5 514.60 V525.70" stroke="#000" stroke-width="2.2" fill="none"/>
<g transform="translate(909.1,541.70) scale(0.05958) translate(-45,-128)"><path d="M237 136 C140 116 45 215 45 325 C45 435 110 510 185 510 C240 510 272 470 284 425 L270 385 C258 430 235 470 195 470 C150 470 122 400 122 320 C122 235 165 172 237 154 Z"/><path d="M237 136 C140 116 45 215 45 325 C45 435 110 510 185 510 C240 510 272 470 284 425 L270 385 C258 430 235 470 195 470 C150 470 122 400 122 320 C122 235 165 172 237 154 Z" transform="translate(565,0) scale(-1,1)"/><path d="M282.5 203 C250 203 238 260 240 300 C243 350 268 385 282.5 428 C297 385 322 350 325 300 C327 260 315 203 282.5 203 Z"/></g>
<path d="M949.8 563.75 H961.5" stroke="#000" stroke-width="2.1" fill="none"/>
</svg>
<div class="t bi" style="left:125.2px;top:20.20px;font-size:47.1px;transform:scaleX(1.05);transform-origin:0 0;">(a)</div>
<div class="t bi" style="left:325.4px;top:20.20px;font-size:47.1px;transform:scaleX(1.05);transform-origin:0 0;">(b)</div>
<div class="t bi" style="left:679.4px;top:20.20px;font-size:47.1px;transform:scaleX(1.07);transform-origin:0 0;">(c)</div>
<div class="t bi" style="left:550.0px;top:633.46px;font-size:49px;transform:scaleX(1.05);transform-origin:0 0;">q</div>
<div class="t bi" style="left:325.3px;top:624.09px;font-size:43px;transform:scaleX(0.985);transform-origin:0 0;">1/d</div>
<div class="t bi" style="left:958.2px;top:624.09px;font-size:43px;transform:scaleX(0.965);transform-origin:0 0;">1/a</div>
<div class="t bi" style="left:936.6px;top:343.45px;font-size:22.8px;">1</div>
<div class="t bi" style="left:936.6px;top:387.06px;font-size:22.8px;">1</div>
<div class="t bi" style="left:936.6px;top:430.65px;font-size:22.8px;">2</div>
<div class="t bi" style="left:936.6px;top:474.25px;font-size:22.8px;">2</div>
<div class="t bi" style="left:936.6px;top:517.85px;font-size:22.8px;">3</div>
<div class="t bi" style="left:936.6px;top:561.45px;font-size:22.8px;">3</div>
</div></body></html>
